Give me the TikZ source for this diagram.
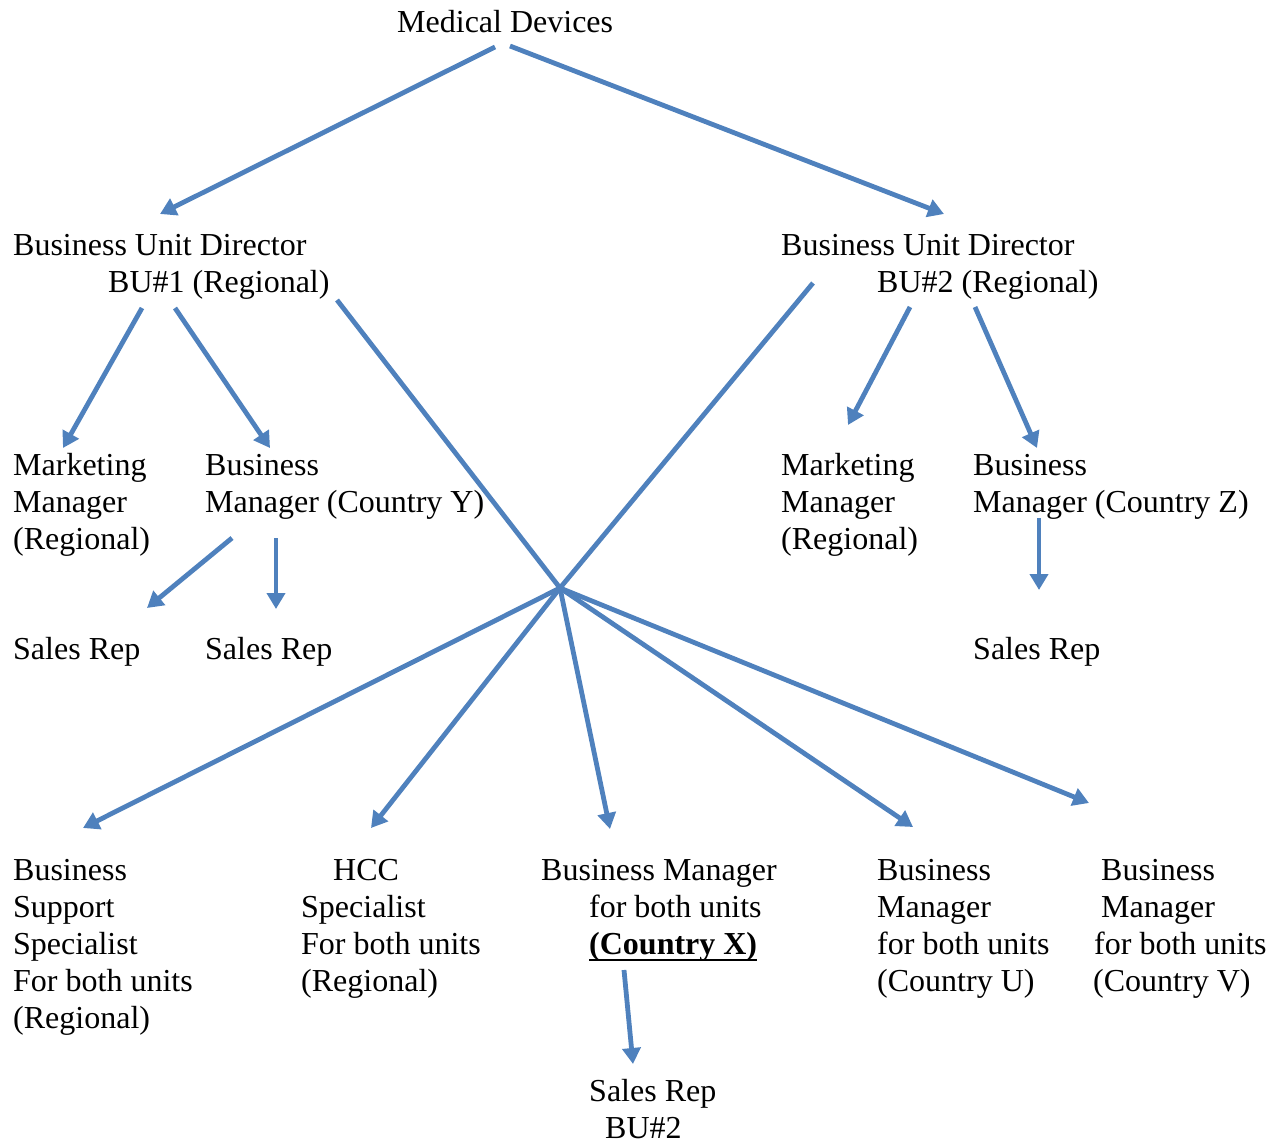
\documentclass[tikz,border=0pt]{standalone}
\usepackage{fontspec}
\setmainfont{Liberation Serif}
\usetikzlibrary{arrows.meta}
\definecolor{linkblue}{HTML}{4F81BD}
% thick underline placed just below the baseline
\newcommand\ulinetext[1]{\setbox0\hbox{#1}\rlap{\rule[-7pt]{\wd0}{2.2pt}}\box0}
\newcommand\indentby[1]{\hspace*{#1pt}}

\begin{document}
\begin{tikzpicture}[x=1pt,y=-1pt,
  txt/.style={anchor=base west, inner sep=0pt, font=\fontsize{32}{37}\selectfont},
  link/.style={draw=linkblue, line width=4.8pt},
  arr/.style={link, -{Triangle[width=18pt,length=16pt]}}]
\useasboundingbox (0,0) rectangle (1276,1140);

% ---- labels ----
\node[txt] (md) at (397,33) {Medical Devices};
\node[txt] (bud1) at (13,255) {\vtop{\hbox{Business Unit Director}\hbox{\indentby{95}BU\#1 (Regional)}}};
\node[txt] (bud2) at (781,255) {\vtop{\hbox{Business Unit Director}\hbox{\indentby{96}BU\#2 (Regional)}}};

\node[txt] (mm1) at (13,475) {\vtop{\hbox{Marketing}\hbox{Manager}\hbox{(Regional)}}};
\node[txt] (bmy) at (205,475) {\vtop{\hbox{Business}\hbox{Manager (Country Y)}}};
\node[txt] (mm2) at (781,475) {\vtop{\hbox{Marketing}\hbox{Manager}\hbox{(Regional)}}};
\node[txt] (bmz) at (973,475) {\vtop{\hbox{Business}\hbox{Manager (Country Z)}}};

\node[txt] (sr1) at (13,659) {Sales Rep};
\node[txt] (sr2) at (205,659) {Sales Rep};
\node[txt] (sr3) at (973,659) {Sales Rep};

\node[txt] (bss) at (13,880) {\vtop{\hbox{Business}\hbox{Support}\hbox{Specialist}\hbox{For both units}\hbox{(Regional)}}};
\node[txt] (hcc) at (301,880) {\vtop{\hbox{\indentby{32}HCC}\hbox{Specialist}\hbox{For both units}\hbox{(Regional)}}};
\node[txt] (bmx) at (541,880) {\vtop{\hbox{Business Manager}\hbox{\indentby{48}for both units}\hbox{\indentby{48}\ulinetext{\textbf{(Country X)}}}}};
\node[txt] (bmu) at (877,880) {\vtop{\hbox{Business}\hbox{Manager}\hbox{for both units}\hbox{(Country U)}}};
\node[txt] (bmv) at (1093,880) {\vtop{\hbox{\indentby{8}Business}\hbox{\indentby{8}Manager}\hbox{\indentby{1}for both units}\hbox{(Country V)}}};
\node[txt] (srx) at (589,1101) {\vtop{\hbox{Sales Rep}\hbox{\indentby{16}BU\#2}}};

% ---- connector end points ----
\coordinate (hub) at (560,588);
\coordinate (md-l) at (495,47);   \coordinate (bud1-in) at (160,214);
\coordinate (md-r) at (510,46);   \coordinate (bud2-in) at (944,214);
\coordinate (bud1-a) at (142,308); \coordinate (mm1-in) at (63,448);
\coordinate (bud1-b) at (175,308); \coordinate (bmy-in) at (270,448);
\coordinate (bud1-c) at (337,300);
\coordinate (bud2-c) at (813,283);
\coordinate (bud2-a) at (910,307); \coordinate (mm2-in) at (848,425);
\coordinate (bud2-b) at (975,307); \coordinate (bmz-in) at (1037,448);
\coordinate (bmy-a) at (232,538);  \coordinate (sr1-in) at (147,608);
\coordinate (bmy-b) at (276,538);  \coordinate (sr2-in) at (276,609);
\coordinate (bmz-a) at (1039,518); \coordinate (sr3-in) at (1039,590);
\coordinate (bss-in) at (83,828);
\coordinate (hcc-in) at (371,828);
\coordinate (bmx-in) at (610,829);
\coordinate (bmu-in) at (913,827);
\coordinate (bmv-in) at (1089,803);
\coordinate (bmx-a) at (624,970);  \coordinate (srx-in) at (633,1064);

% ---- connectors ----
\draw[arr] (md-l) -- (bud1-in);
\draw[arr] (md-r) -- (bud2-in);
\draw[arr] (bud1-a) -- (mm1-in);
\draw[arr] (bud1-b) -- (bmy-in);
\draw[link] (bud1-c) -- (hub);
\draw[link] (bud2-c) -- (hub);
\draw[arr] (bud2-a) -- (mm2-in);
\draw[arr] (bud2-b) -- (bmz-in);
\draw[arr] (bmy-a) -- (sr1-in);
\draw[arr] (bmy-b) -- (sr2-in);
\draw[arr] (bmz-a) -- (sr3-in);
\draw[arr] (hub) -- (bss-in);
\draw[arr] (hub) -- (hcc-in);
\draw[arr] (hub) -- (bmx-in);
\draw[arr] (hub) -- (bmu-in);
\draw[arr] (hub) -- (bmv-in);
\draw[arr] (bmx-a) -- (srx-in);
\end{tikzpicture}
\end{document}
